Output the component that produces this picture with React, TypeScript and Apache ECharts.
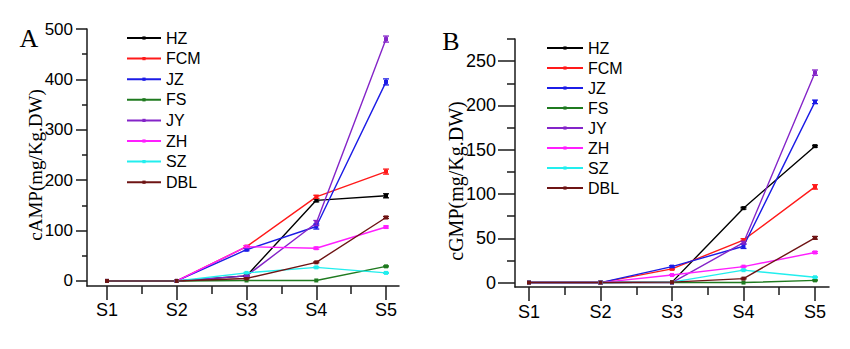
import React, { useEffect, useRef } from "react";
import * as echarts from "echarts";

const categories = ["S1", "S2", "S3", "S4", "S5"];
const seriesNames = ["HZ", "FCM", "JZ", "FS", "JY", "ZH", "SZ", "DBL"];
const seriesColors = ["#000000", "#ff1a1a", "#1c1ce6", "#1f7a1f", "#8424c8", "#ff1eff", "#22eeee", "#6e1414"];

// Panel A: cAMP (mg/Kg.DW)
const campHZ = [0, 0, 10, 160, 169];
const campFCM = [0, 0, 68, 167, 217];
const campJZ = [0, 0, 62, 108, 395];
const campFS = [0, 0, 1, 1, 29];
const campJY = [0, 0, 10, 115, 480];
const campZH = [0, 0, 68, 65, 107];
const campSZ = [0, 0, 16, 27, 16];
const campDBL = [0, 0, 5, 37, 126];
const campErrHZ = [0, 0, 1, 3, 4];
const campErrFCM = [0, 0, 2, 3, 5];
const campErrJZ = [0, 0, 2, 5, 6];
const campErrFS = [0, 0, 0, 0, 1];
const campErrJY = [0, 0, 1, 5, 6];
const campErrZH = [0, 0, 2, 2, 2];
const campErrSZ = [0, 0, 1, 1, 1];
const campErrDBL = [0, 0, 1, 1, 2];

// Panel B: cGMP (mg/Kg.DW)
const cgmpHZ = [0, 0, 0.5, 84, 154];
const cgmpFCM = [0, 0, 15.5, 48, 108];
const cgmpJZ = [0, 0, 18, 41, 204];
const cgmpFS = [0, 0, 0, 0, 2.5];
const cgmpJY = [0, 0, 0, 45, 237];
const cgmpZH = [0, 0, 8.5, 18, 34];
const cgmpSZ = [0, 0, 0.5, 14, 6];
const cgmpDBL = [0, 0, 0.5, 4.5, 50.5];
const cgmpErrHZ = [0, 0, 0, 1, 1];
const cgmpErrFCM = [0, 0, 1, 1.5, 2.5];
const cgmpErrJZ = [0, 0, 1, 2.5, 2];
const cgmpErrFS = [0, 0, 0, 0, 0.5];
const cgmpErrJY = [0, 0, 0, 1.5, 3];
const cgmpErrZH = [0, 0, 0.5, 0.5, 1];
const cgmpErrSZ = [0, 0, 0, 0.5, 0.5];
const cgmpErrDBL = [0, 0, 0, 0.5, 1.5];

const campTicks = [0, 100, 200, 300, 400, 500];
const campMinorTicks = [50, 150, 250, 350, 450];
const cgmpTicks = [0, 50, 100, 150, 200, 250];
const cgmpMinorTicks = [25, 75, 125, 175, 225, 275];
const xTicks = [0, 1, 2, 3, 4];
const xMinorTicks = [0.5, 1.5, 2.5, 3.5];

const campValues = [campHZ, campFCM, campJZ, campFS, campJY, campZH, campSZ, campDBL];
const campErrors = [campErrHZ, campErrFCM, campErrJZ, campErrFS, campErrJY, campErrZH, campErrSZ, campErrDBL];
const cgmpValues = [cgmpHZ, cgmpFCM, cgmpJZ, cgmpFS, cgmpJY, cgmpZH, cgmpSZ, cgmpDBL];
const cgmpErrors = [cgmpErrHZ, cgmpErrFCM, cgmpErrJZ, cgmpErrFS, cgmpErrJY, cgmpErrZH, cgmpErrSZ, cgmpErrDBL];

const SANS = "'Liberation Sans', Arial, sans-serif";
const SERIF = "'Liberation Serif', 'Times New Roman', serif";
const AXIS_COLOR = "#1a1a1a";

function panelSeries(values: number[][], errors: number[][], xIdx: number, yIdx: number, tag: string) {
  const out: any[] = [];
  values.forEach((vals, k) => {
    const color = seriesColors[k];
    out.push({
      type: "line",
      name: seriesNames[k],
      xAxisIndex: xIdx,
      yAxisIndex: yIdx,
      data: vals.map((v, i) => [i, v]),
      symbol: "rect",
      symbolSize: 4,
      showSymbol: true,
      lineStyle: { width: 1.4, color },
      itemStyle: { color },
      z: 2,
    });
  });
  values.forEach((vals, k) => {
    const color = seriesColors[k];
    out.push({
      type: "custom",
      name: tag + "-err-" + seriesNames[k],
      xAxisIndex: xIdx,
      yAxisIndex: yIdx,
      silent: true,
      z: 3,
      data: vals.map((v, i) => [i, v, errors[k][i]]),
      renderItem: (params: any, api: any) => {
        const x = api.value(0);
        const v = api.value(1);
        const e = api.value(2);
        if (!e) return null;
        const top = api.coord([x, v + e]);
        const bot = api.coord([x, v - e]);
        const w = 3;
        const st = { stroke: color, lineWidth: 1.3 };
        return {
          type: "group",
          children: [
            { type: "line", shape: { x1: top[0], y1: top[1], x2: bot[0], y2: bot[1] }, style: st },
            { type: "line", shape: { x1: top[0] - w, y1: top[1], x2: top[0] + w, y2: top[1] }, style: st },
            { type: "line", shape: { x1: bot[0] - w, y1: bot[1], x2: bot[0] + w, y2: bot[1] }, style: st },
          ],
        };
      },
    });
  });
  return out;
}

function xAxes(gridIndex: number, min: number, max: number, labelMargin: number) {
  return [
    {
      type: "value",
      gridIndex,
      min,
      max,
      axisLine: { show: true, onZero: false, lineStyle: { color: AXIS_COLOR, width: 1.5 } },
      axisTick: { show: true, customValues: xTicks, length: 14, lineStyle: { color: AXIS_COLOR, width: 1.5 } },
      axisLabel: {
        show: true,
        customValues: xTicks,
        formatter: (v: number) => categories[Math.round(v)] ?? "",
        margin: labelMargin,
        fontSize: 18,
        fontFamily: SANS,
        color: "#000",
      },
      splitLine: { show: false },
    },
    {
      type: "value",
      gridIndex,
      min,
      max,
      position: "bottom",
      axisLine: { show: false, onZero: false },
      axisTick: { show: true, customValues: xMinorTicks, length: 8, lineStyle: { color: AXIS_COLOR, width: 1.5 } },
      axisLabel: { show: false },
      splitLine: { show: false },
    },
  ];
}

function yAxes(gridIndex: number, min: number, max: number, ticks: number[], minor: number[], majorLen: number, minorLen: number, labelMargin: number, fontSize: number) {
  return [
    {
      type: "value",
      gridIndex,
      min,
      max,
      axisLine: { show: true, onZero: false, lineStyle: { color: AXIS_COLOR, width: 1.5 } },
      axisTick: { show: true, customValues: ticks, length: majorLen, lineStyle: { color: AXIS_COLOR, width: 1.5 } },
      axisLabel: {
        show: true,
        customValues: ticks,
        margin: labelMargin,
        fontSize,
        fontFamily: SANS,
        color: "#000",
      },
      splitLine: { show: false },
    },
    {
      type: "value",
      gridIndex,
      min,
      max,
      position: "left",
      axisLine: { show: false, onZero: false },
      axisTick: { show: true, customValues: minor, length: minorLen, lineStyle: { color: AXIS_COLOR, width: 1.5 } },
      axisLabel: { show: false },
      splitLine: { show: false },
    },
  ];
}

export default function App() {
  const ref = useRef<HTMLDivElement>(null);
  useEffect(() => {
    if (!ref.current) return;
    const chart = echarts.init(ref.current, null, { renderer: "svg" });
    const legendBase = {
      data: seriesNames,
      orient: "vertical",
      itemHeight: 4,
      padding: 0,
      selectedMode: false,
      textStyle: { fontSize: 16, fontFamily: SANS, color: "#000", lineHeight: 16 },
    };
    chart.setOption({
      animation: false,
      backgroundColor: "#ffffff",
      grid: [
        { left: 87, right: 451, top: 29, bottom: 63, containLabel: false },
        { left: 515, right: 21, top: 39, bottom: 62, containLabel: false },
      ],
      xAxis: [...xAxes(0, -0.287, 4.186, 15), ...xAxes(1, -0.196, 4.196, 16)],
      yAxis: [
        ...yAxes(0, -10, 500, campTicks, campMinorTicks, 11, 5, 14, 17),
        ...yAxes(1, -5, 275, cgmpTicks, cgmpMinorTicks, 17, 8, 19, 18),
      ],
      legend: [
        { ...legendBase, left: 126, top: 30, itemWidth: 34, itemGap: 4.6 },
        { ...legendBase, left: 546, top: 40, itemWidth: 36, itemGap: 4 },
      ],
      graphic: [
        { type: "text", x: 29, y: 38, style: { text: "A", font: `26px ${SERIF}`, fill: "#000", textAlign: "center", textVerticalAlign: "middle" } },
        { type: "text", x: 451, y: 41, style: { text: "B", font: `26px ${SERIF}`, fill: "#000", textAlign: "center", textVerticalAlign: "middle" } },
        { type: "text", x: 35, y: 165, rotation: Math.PI / 2, style: { text: "cAMP(mg/Kg.DW)", font: `19px ${SERIF}`, fill: "#000", textAlign: "center", textVerticalAlign: "middle" } },
        { type: "text", x: 456, y: 181, rotation: Math.PI / 2, style: { text: "cGMP(mg/Kg.DW)", font: `20px ${SERIF}`, fill: "#000", textAlign: "center", textVerticalAlign: "middle" } },
      ],
      series: [
        ...panelSeries(campValues, campErrors, 0, 0, "A"),
        ...panelSeries(cgmpValues, cgmpErrors, 2, 2, "B"),
      ],
    });
    return () => chart.dispose();
  }, []);
  return (
    <div
      ref={ref}
      style={{ position: "absolute", left: 0, top: 0, width: 850, height: 349, background: "#fff" }}
    />
  );
}
